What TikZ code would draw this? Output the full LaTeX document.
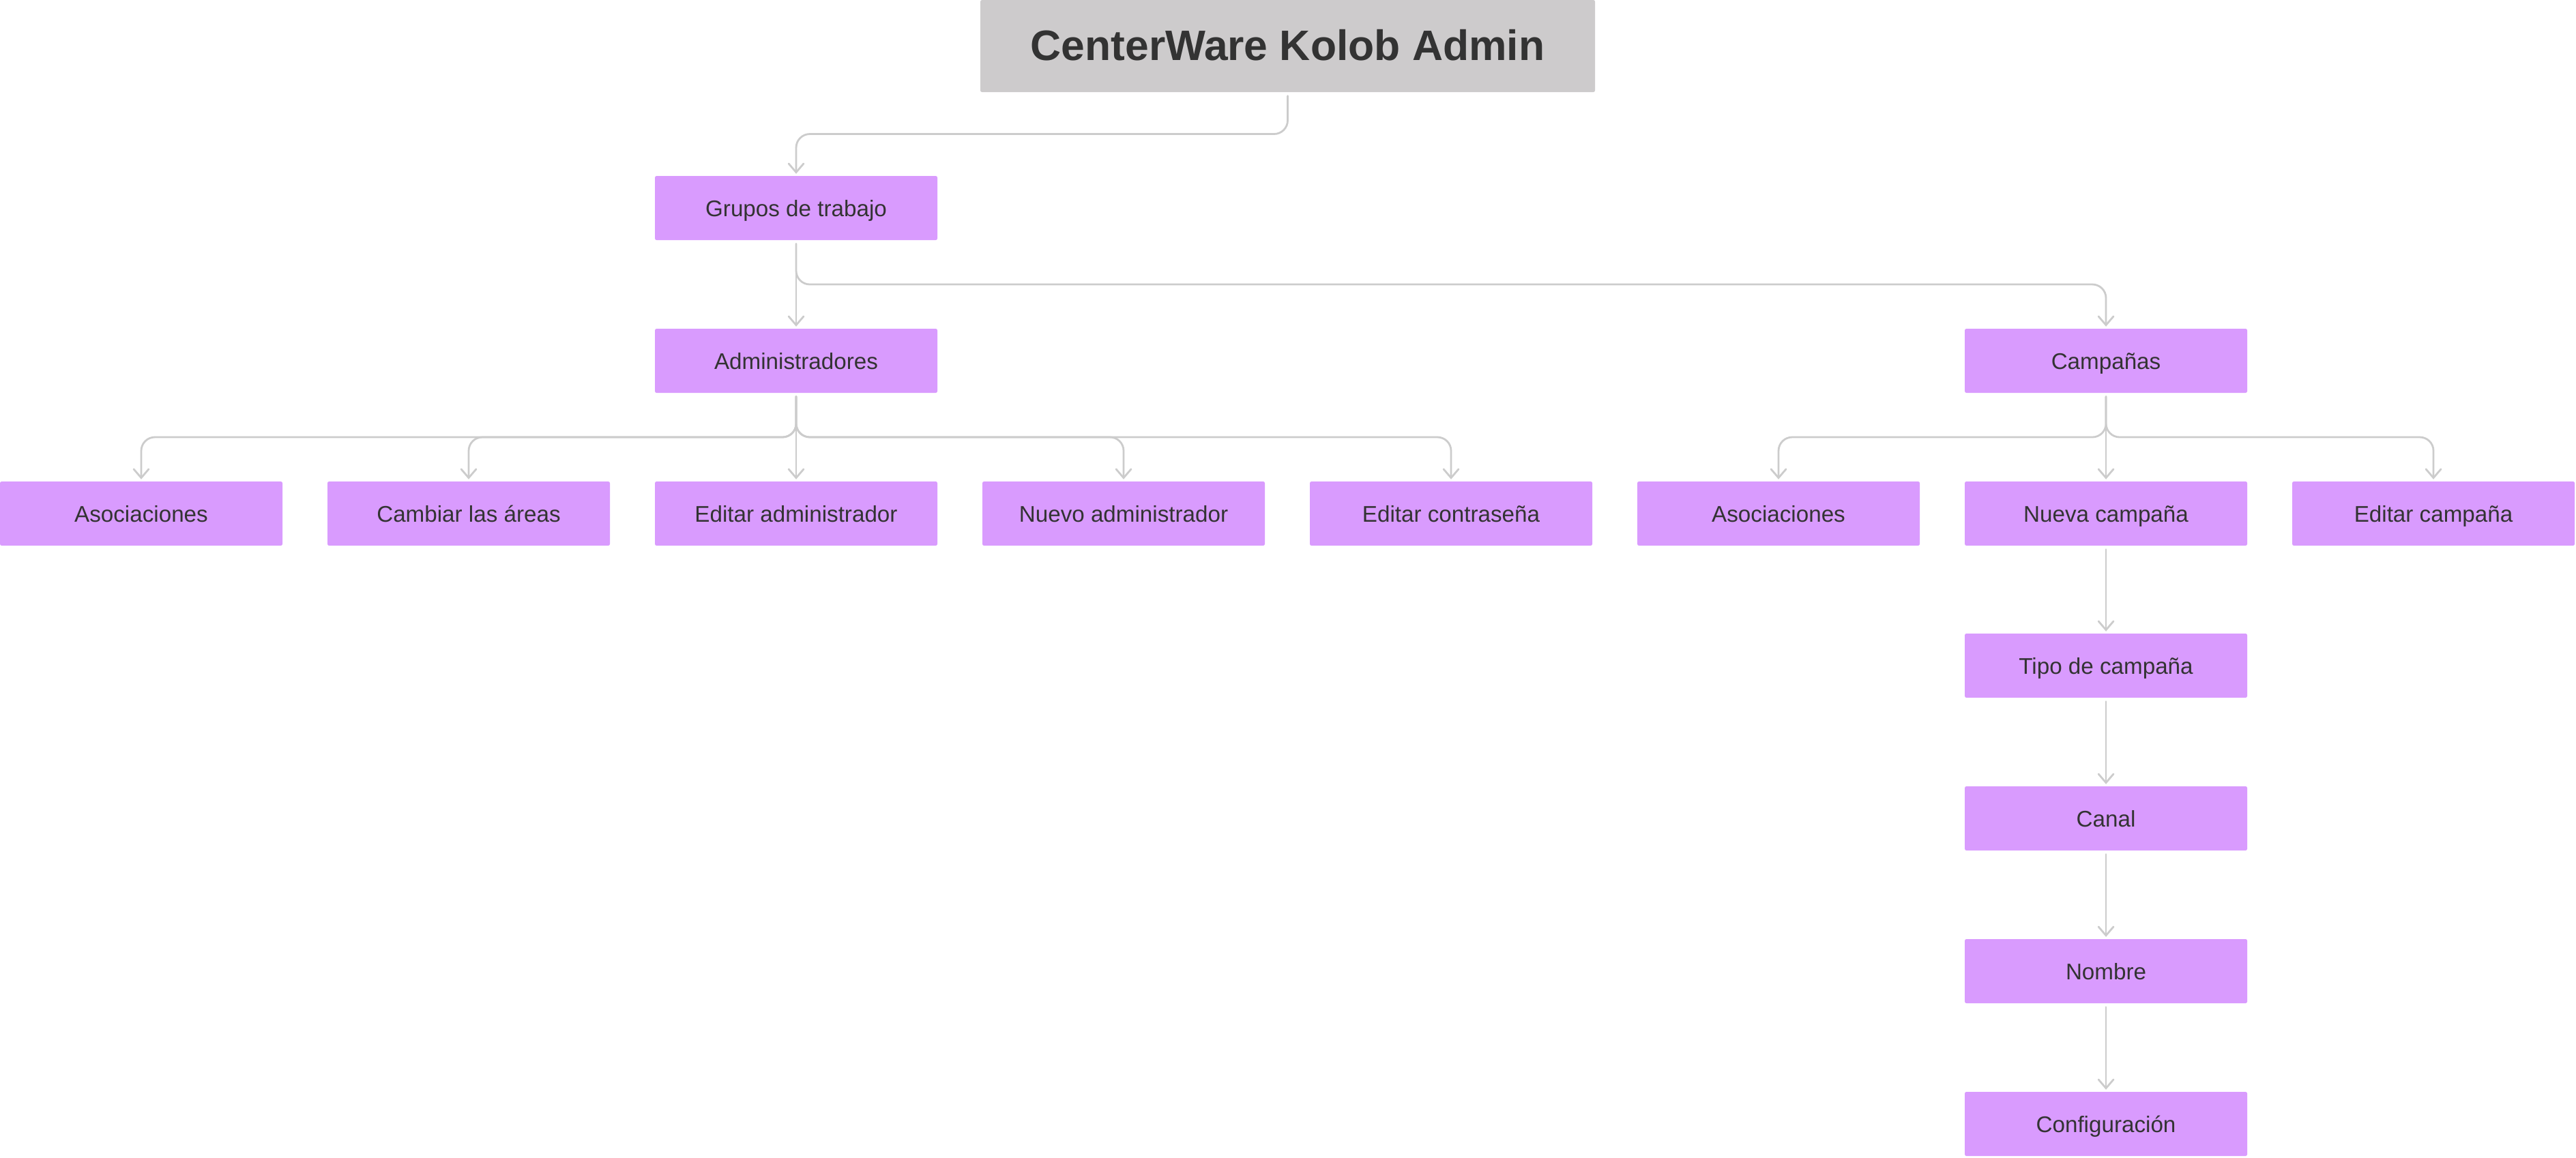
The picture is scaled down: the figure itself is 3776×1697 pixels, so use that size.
\documentclass[tikz,border=0pt]{standalone}
\usepackage{fontspec}
\setmainfont{Liberation Sans}
\usetikzlibrary{arrows.meta}
\definecolor{boxlila}{HTML}{D99BFE}
\definecolor{boxgris}{HTML}{CDCBCC}
\definecolor{linegris}{HTML}{CCCCCC}
\definecolor{textgris}{HTML}{333333}

\begin{document}
\begin{tikzpicture}[x=0.25pt, y=-0.25pt,
  every node/.style={font=\fontsize{8.3}{10}\selectfont, text=textgris},
  box/.style={fill=boxlila, minimum width=103.5pt, minimum height=23.5pt, inner sep=0pt, rounded corners=0.6pt, text height=7.2pt, text depth=1pt},
  link/.style={draw=linegris, line width=0.7pt, rounded corners=5pt, line cap=round, shorten <=1.2pt, shorten >=0.6pt, -{Straight Barb[length=3.2pt, width=5.5pt, line cap=round]}}]
	\useasboundingbox (0,0) rectangle (3776,1697);
	\node[box, fill=boxgris, minimum width=225.25pt, minimum height=33.75pt, text height=12pt, text depth=1.6pt, font=\bfseries\fontsize{15.6}{18}\selectfont] (kolob) at (1887.5,67.5) {CenterWare Kolob Admin};
	\node[box] (grupos) at (1167,305) {Grupos de trabajo};
	\node[box] (admins) at (1167,529) {Administradores};
	\node[box] (camp) at (3087,529) {Campañas};
	\foreach \n/\x/\t in {a1/207/Asociaciones, a2/687/Cambiar las áreas, a3/1167/Editar administrador, a4/1647/Nuevo administrador, a5/2127/Editar contraseña, c1/2607/Asociaciones, c2/3087/Nueva campaña, c3/3567/Editar campaña} {\node[box] (\n) at (\x,753) {\t};}
	\foreach \n/\y/\t in {tipo/976/Tipo de campaña, canal/1200/Canal, nombre/1424/Nombre, config/1648/Configuración} {\node[box] (\n) at (3087,\y) {\t};}
	\coordinate (lvl1) at (0,196.5);
	\coordinate (lvl2) at (0,417);
	\coordinate (lvl3) at (0,641);
	\draw[link] (kolob.south) -- (kolob.south |- lvl1) -| (grupos.north);
	\draw[link] (grupos.south) -- (admins.north);
	\draw[link] (grupos.south) -- (grupos.south |- lvl2) -| (camp.north);
	\foreach \n in {a1,a2,a4,a5} {\draw[link] (admins.south) -- (admins.south |- lvl3) -| (\n.north);}
	\draw[link] (admins.south) -- (a3.north);
	\foreach \n in {c1,c3} {\draw[link] (camp.south) -- (camp.south |- lvl3) -| (\n.north);}
	\draw[link] (camp.south) -- (c2.north);
	\foreach \a/\b in {c2/tipo, tipo/canal, canal/nombre, nombre/config} {\draw[link] (\a.south) -- (\b.north);}
\end{tikzpicture}
\end{document}
